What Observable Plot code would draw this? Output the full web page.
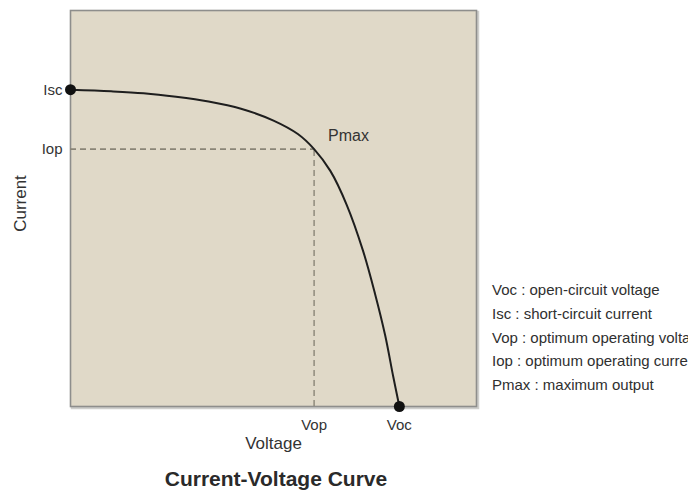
<!DOCTYPE html>
<html>
<head>
<meta charset="utf-8">
<script src="https://cdn.jsdelivr.net/npm/d3@7"></script>
<script src="https://cdn.jsdelivr.net/npm/@observablehq/plot@0.6"></script>
<style>
  html, body { margin: 0; padding: 0; background: #fff; overflow: hidden; }
  #wrap { position: relative; width: 688px; height: 491px; font-family: "Liberation Sans", Arial, Helvetica, sans-serif; }
  #legend { position: absolute; left: 492px; top: 278px; margin: 0; padding: 0; list-style: none;
            font-size: 15px; line-height: 23.8px; color: #2f2f2f; white-space: nowrap; }
  #title { position: absolute; left: 70px; width: 412px; top: 466px; text-align: center;
           font-size: 21px; font-weight: bold; color: #2a2a2a; line-height: 26px; }
</style>
</head>
<body>
<div id="wrap">
  <div id="chart"></div>
  <ul id="legend"></ul>
  <div id="title"></div>
</div>
<script>
// I-V curve (arbitrary normalized units: voltage 0-100, current 0-100)
const voltage = [0, 10, 18, 26, 34, 42, 50, 56, 60, 64, 68, 72, 75, 77.5, 79.5, 81];
const current = [80, 79.6, 79.1, 78.2, 77, 75.2, 72.2, 68.8, 65, 59.5, 51, 39.5, 28.5, 18, 7.5, 0];

// key points
const Isc = 80, Voc = 81, Vop = 60, Iop = 65;

// tick labels
const yTickValues = [Isc, Iop];
const yTickLabels = ["Isc", "Iop"];
const xTickValues = [Vop, Voc];
const xTickLabels = ["Vop", "Voc"];

const xLabel = "Voltage";
const yLabel = "Current";
const pmaxLabel = "Pmax";
const titleText = "Current-Voltage Curve";
const legendLines = [
  "Voc : open-circuit voltage",
  "Isc : short-circuit current",
  "Vop : optimum operating voltage",
  "Iop : optimum operating current",
  "Pmax : maximum output"
];

const curve = voltage.map((v, i) => ({v, c: current[i]}));
const endPoints = [{v: 0, c: Isc}, {v: Voc, c: 0}];

const chart = Plot.plot({
  width: 688,
  height: 491,
  marginLeft: 70,
  marginRight: 212,
  marginTop: 10,
  marginBottom: 85,
  x: {domain: [0, 100]},
  y: {domain: [0, 100]},
  style: {fontFamily: "'Liberation Sans', Arial, Helvetica, sans-serif", color: "#333", background: "transparent", overflow: "visible"},
  marks: [
    Plot.frame({stroke: "#cfcfcc", strokeWidth: 2.5, dx: 1.5, dy: 1.5}),
    Plot.frame({fill: "#e0d9c8", stroke: "#8e8e8c", strokeWidth: 1.6}),
    Plot.ruleY([Iop], {x1: 0, x2: Vop, stroke: "#8a8577", strokeWidth: 1.6, strokeDasharray: "6,4"}),
    Plot.ruleX([Vop], {y1: 0, y2: Iop, stroke: "#8a8577", strokeWidth: 1.4, strokeDasharray: "6,4"}),
    Plot.line(curve, {x: "v", y: "c", curve: "catmull-rom", stroke: "#1e1e1e", strokeWidth: 2}),
    Plot.dot(endPoints, {x: "v", y: "c", r: 5.5, fill: "#111", stroke: "none"}),
    Plot.axisY({ticks: yTickValues, tickFormat: d => yTickLabels[yTickValues.indexOf(d)], tickSize: 0, tickPadding: 8, fontSize: 15, label: null}),
    Plot.axisX({ticks: xTickValues, tickFormat: d => xTickLabels[xTickValues.indexOf(d)], tickSize: 0, tickPadding: 13, fontSize: 15, label: null}),
    Plot.text([{v: Vop, c: Iop}], {x: "v", y: "c", text: () => pmaxLabel, dx: 14, dy: -13, textAnchor: "start", fontSize: 16, fill: "#333"}),
    Plot.text([yLabel], {frameAnchor: "left", textAnchor: "middle", lineAnchor: "middle", dx: -50, dy: -5, rotate: -90, fontSize: 17, fill: "#333"}),
    Plot.text([xLabel], {frameAnchor: "bottom", textAnchor: "middle", lineAnchor: "middle", dy: 37, fontSize: 17, fill: "#333"})
  ]
});
document.getElementById("chart").appendChild(chart);

const ul = document.getElementById("legend");
legendLines.forEach(t => { const li = document.createElement("li"); li.textContent = t; ul.appendChild(li); });
document.getElementById("title").textContent = titleText;
</script>
</body>
</html>
